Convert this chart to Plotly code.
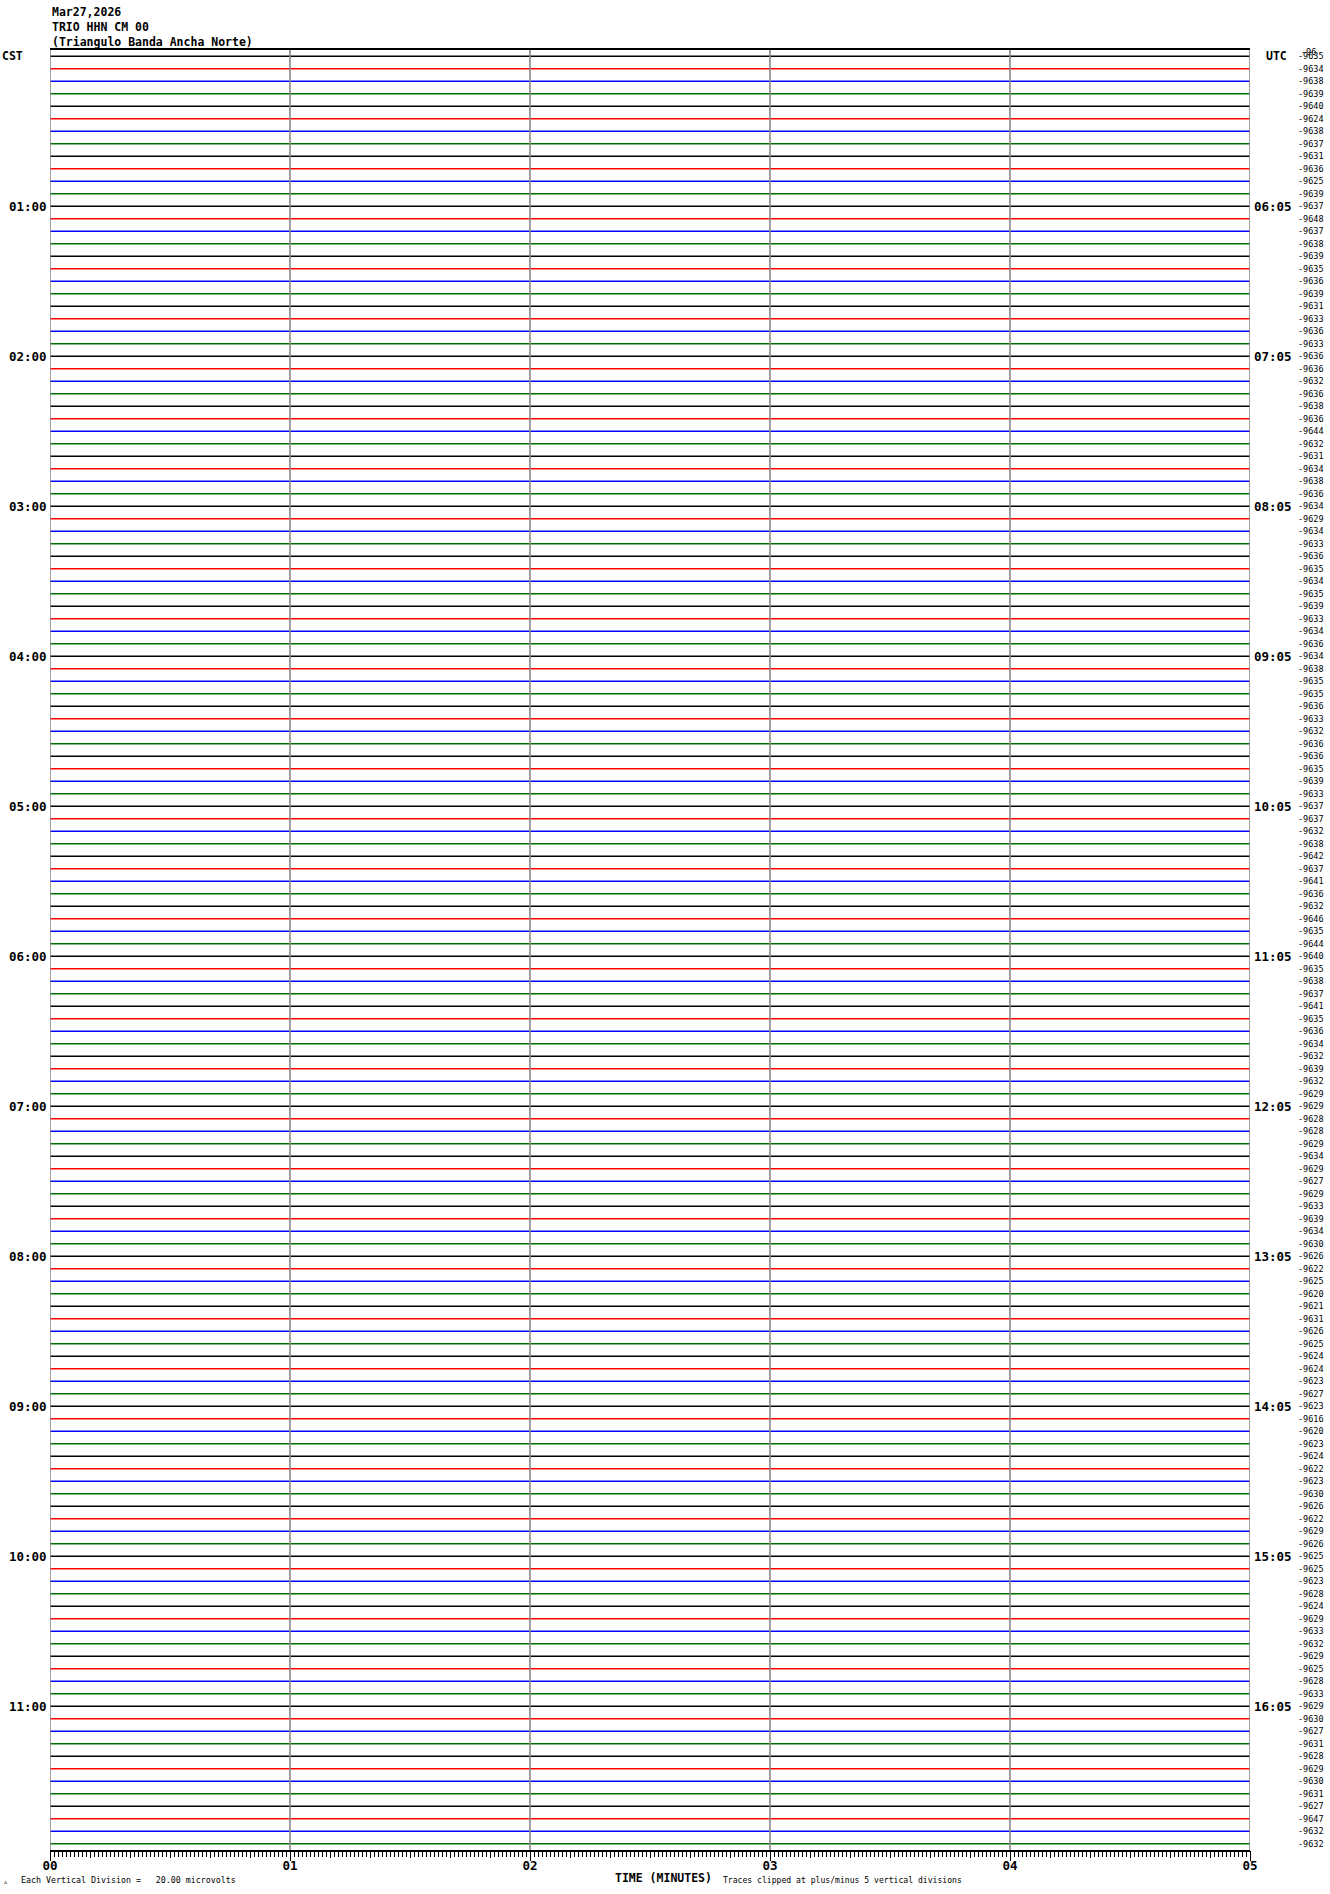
import plotly.graph_objects as go

# ---------------- data ----------------
TITLE_LINES = ["Mar27,2026", "TRIO HHN CM 00", "(Triangulo Banda Ancha Norte)"]
N_ROWS = 144
TRACE_COLORS = ["#000000", "#ff0000", "#0000ff", "#007000"]
MINUTE_TICKS = [0, 1, 2, 3, 4, 5]
MINUTE_LABELS = ["00", "01", "02", "03", "04", "05"]
CST_LABELS = ["CST", "01:00", "02:00", "03:00", "04:00", "05:00", "06:00",
              "07:00", "08:00", "09:00", "10:00", "11:00"]
UTC_LABELS = ["UTC", "06:05", "07:05", "08:05", "09:05", "10:05", "11:05",
              "12:05", "13:05", "14:05", "15:05", "16:05"]
ROW_VALUES = [
    -9635, -9634, -9638, -9639, -9640, -9624, -9638, -9637, -9631, -9636, -9625, -9639,
    -9637, -9648, -9637, -9638, -9639, -9635, -9636, -9639, -9631, -9633, -9636, -9633,
    -9636, -9636, -9632, -9636, -9638, -9636, -9644, -9632, -9631, -9634, -9638, -9636,
    -9634, -9629, -9634, -9633, -9636, -9635, -9634, -9635, -9639, -9633, -9634, -9636,
    -9634, -9638, -9635, -9635, -9636, -9633, -9632, -9636, -9636, -9635, -9639, -9633,
    -9637, -9637, -9632, -9638, -9642, -9637, -9641, -9636, -9632, -9646, -9635, -9644,
    -9640, -9635, -9638, -9637, -9641, -9635, -9636, -9634, -9632, -9639, -9632, -9629,
    -9629, -9628, -9628, -9629, -9634, -9629, -9627, -9629, -9633, -9639, -9634, -9630,
    -9626, -9622, -9625, -9620, -9621, -9631, -9626, -9625, -9624, -9624, -9623, -9627,
    -9623, -9616, -9620, -9623, -9624, -9622, -9623, -9630, -9626, -9622, -9629, -9626,
    -9625, -9625, -9623, -9628, -9624, -9629, -9633, -9632, -9629, -9625, -9628, -9633,
    -9629, -9630, -9627, -9631, -9628, -9629, -9630, -9631, -9627, -9647, -9632, -9632,
]
FOOT_LEFT = "Each Vertical Division =   20.00 microvolts"
FOOT_MID = "TIME (MINUTES)"
FOOT_RIGHT = "Traces clipped at plus/minus 5 vertical divisions"

# ---------------- layout constants ----------------
W, H = 1330, 1894
L, R, T, B = 50, 80, 50, 44
PW, PH = W - L - R, H - T - B
MONO = "DejaVu Sans Mono"
GRID = "#888888"


def px_x(px):
    return (px - L) / PW


def px_y(py):
    return (H - B - py) / PH


fig = go.Figure()

# traces: one line per 5-minute row, colours cycling
for c, color in enumerate(TRACE_COLORS):
    xs, ys = [], []
    for row in range(c, N_ROWS, len(TRACE_COLORS)):
        xs += [MINUTE_TICKS[0], MINUTE_TICKS[-1], None]
        ys += [row, row, None]
    fig.add_trace(go.Scatter(x=xs, y=ys, mode="lines",
                             line=dict(color=color, width=1.6),
                             hoverinfo="skip", showlegend=False))

# dummy trace for the 10-second tick axis
fig.add_trace(go.Scatter(x=[MINUTE_TICKS[0], MINUTE_TICKS[-1]], y=[0, 0], xaxis="x2",
                         mode="lines", line=dict(width=0), opacity=0,
                         hoverinfo="skip", showlegend=False))

# minute grid lines drawn above the traces (as in the reference)
for m in MINUTE_TICKS:
    fig.add_shape(type="line", xref="x", yref="paper", x0=m, x1=m, y0=0, y1=1,
                  line=dict(color=GRID, width=1.6), layer="above")

annotations = []
# title lines
for i, line in enumerate(TITLE_LINES):
    annotations.append(dict(text="<b>%s</b>" % line, xref="paper", yref="paper",
                            x=px_x(50), y=px_y(12 + 15 * i), xanchor="left",
                            yanchor="middle", showarrow=False,
                            font=dict(family=MONO, size=11.5, color="black")))

# hour labels
for i, (cst, utc) in enumerate(zip(CST_LABELS, UTC_LABELS)):
    row = i * 12
    if i == 0:
        annotations.append(dict(text="<b>%s</b>" % cst, xref="paper", yref="y", x=px_x(0),
                                y=row, xanchor="left", yanchor="middle", showarrow=False,
                                font=dict(family=MONO, size=11.5, color="black")))
        annotations.append(dict(text="<b>%s</b>" % utc, xref="paper", yref="y",
                                x=px_x(1264), y=row, xanchor="left", yanchor="middle",
                                showarrow=False,
                                font=dict(family=MONO, size=11.5, color="black")))
    else:
        annotations.append(dict(text="<b>%s</b>" % cst, xref="paper", yref="y",
                                x=px_x(49), y=row, xanchor="right", yanchor="middle",
                                showarrow=False,
                                font=dict(family=MONO, size=12.5, color="black")))
        annotations.append(dict(text="<b>%s</b>" % utc, xref="paper", yref="y",
                                x=px_x(1252), y=row, xanchor="left", yanchor="middle",
                                showarrow=False,
                                font=dict(family=MONO, size=12.5, color="black")))

# right-hand per-row values
for row, v in enumerate(ROW_VALUES):
    annotations.append(dict(text=str(v), xref="paper", yref="y", x=px_x(1326), y=row,
                            xanchor="right", yanchor="middle", showarrow=False,
                            font=dict(family=MONO, size=8.5, color="black")))
# overlapping partial label at the very top (as in the reference)
annotations.append(dict(text="-96", xref="paper", yref="paper", x=px_x(1299), y=px_y(52),
                        xanchor="left", yanchor="middle", showarrow=False,
                        font=dict(family=MONO, size=8.5, color="black")))

# footer
annotations.append(dict(text="ᴧ", xref="paper", yref="paper", x=px_x(2), y=px_y(1882),
                        xanchor="left", yanchor="middle", showarrow=False,
                        font=dict(family=MONO, size=6, color="black")))
annotations.append(dict(text=FOOT_LEFT.replace(" ", "\u00a0"), xref="paper", yref="paper",
                        x=px_x(19), y=px_y(1880), xanchor="left", yanchor="middle",
                        showarrow=False, font=dict(family=MONO, size=8.3, color="black")))
annotations.append(dict(text="<b>%s</b>" % FOOT_MID.replace(" ", "\u00a0"), xref="paper",
                        yref="paper", x=px_x(613), y=px_y(1878), xanchor="left",
                        yanchor="middle", showarrow=False,
                        font=dict(family=MONO, size=11.5, color="black")))
annotations.append(dict(text=FOOT_RIGHT.replace(" ", "\u00a0"), xref="paper", yref="paper",
                        x=px_x(721), y=px_y(1880), xanchor="left", yanchor="middle",
                        showarrow=False, font=dict(family=MONO, size=8.1, color="black")))

fig.update_layout(
    width=W, height=H,
    margin=dict(l=L, r=R, t=T, b=B, pad=0),
    paper_bgcolor="white", plot_bgcolor="white",
    showlegend=False,
    annotations=annotations,
    xaxis=dict(
        range=[MINUTE_TICKS[0], MINUTE_TICKS[-1]],
        tickvals=MINUTE_TICKS, ticktext=MINUTE_LABELS,
        ticks="outside", ticklen=9, tickwidth=1, tickcolor="black",
        ticklabelstandoff=-6,
        tickfont=dict(family=MONO, size=12.5, color="black", weight="bold"),
        showgrid=False,
        showline=True, linecolor="black", linewidth=1.5, mirror=True,
        zeroline=False, layer="above traces",
        minor=dict(dtick=1 / 60, tick0=0, ticks="outside", ticklen=5,
                   tickcolor="black", tickwidth=1, showgrid=False),
    ),
    xaxis2=dict(
        range=[MINUTE_TICKS[0], MINUTE_TICKS[-1]], overlaying="x", anchor="y",
        side="bottom", dtick=1 / 6, tick0=0, ticks="outside", ticklen=7,
        tickcolor="black", tickwidth=1, showticklabels=False, showgrid=False,
        zeroline=False, showline=False,
    ),
    yaxis=dict(
        range=[N_ROWS - 0.5, -0.5], showticklabels=False, ticks="",
        showgrid=False, zeroline=False, showline=False,
    ),
)

fig.write_html(
    "out.html",
    config={"displayModeBar": False},
    post_script="document.body.style.margin='0';document.body.style.padding='0';"
                "document.documentElement.style.overflow='hidden';",
)
